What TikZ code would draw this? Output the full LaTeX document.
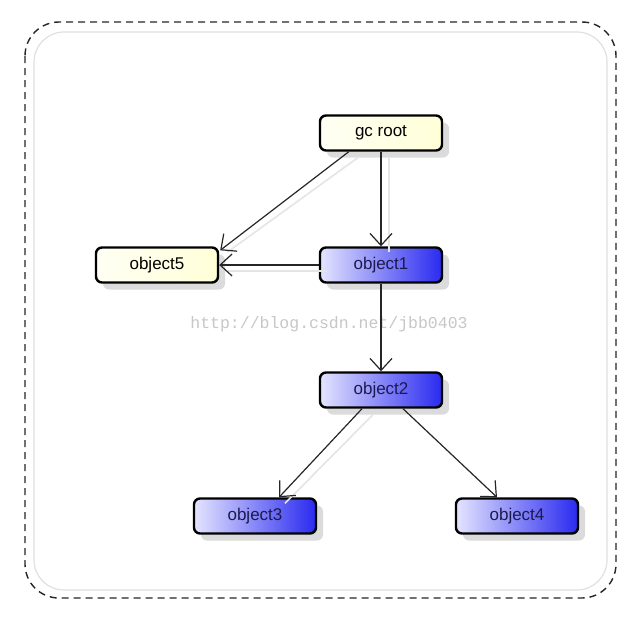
\documentclass[tikz,border=0pt]{standalone}
\usepackage{fontspec}
\setmainfont{Liberation Sans}
\newfontfamily\wmfont{Liberation Mono}
\usetikzlibrary{arrows.meta,shadows}
\definecolor{yelR}{HTML}{FFFFD8}
\definecolor{yelL}{HTML}{FFFFF4}
\definecolor{bluL}{HTML}{E4E4FF}
\definecolor{bluR}{HTML}{2A2AF0}
\definecolor{navytext}{HTML}{1A1A50}
\tikzset{
  objbox/.style={draw=black, line width=2.4pt, rounded corners=6pt,
    minimum width=122pt, minimum height=35pt, inner sep=0pt,
    font=\fontsize{17}{19}\selectfont,
    general shadow={shadow xshift=7pt, shadow yshift=-7pt, fill=black!14}},
  yelbox/.style={objbox, left color=yelL, right color=yelR, text=black},
  blubox/.style={objbox, left color=bluL, right color=bluR, text=navytext},
  edge/.style={draw=black!85, line width=1.2pt,
    -{Straight Barb[length=12pt,width=22pt,line width=1.2pt]}},
  edgeshadow/.style={draw=black!10, line width=1.6pt},
}
\begin{document}
\begin{tikzpicture}[x=1pt,y=-1pt]
\useasboundingbox (0,0) rectangle (636,626);
\fill[white] (0,0) rectangle (636,626);
% frames
\draw[black!12, line width=1.2pt, rounded corners=30pt] (34,32) rectangle (607,590);
\draw[black!85, line width=1.4pt, dash pattern=on 7pt off 5pt, rounded corners=34pt] (25,22) rectangle (616,598);
% watermark
\node[font=\wmfont\fontsize{16.5}{18}\selectfont, text=black!22] (wm) at (329,324) {http://blog.csdn.net/jbb0403};
% nodes
\node[yelbox] (gc) at (381,133) {gc root};
\node[yelbox] (o5) at (157,265) {object5};
\node[blubox] (o1) at (381,265) {object1};
\node[blubox] (o2) at (381,390) {object2};
\node[blubox] (o3) at (255,516) {object3};
\node[blubox] (o4) at (517,516) {object4};
% edge shadows
\begin{scope}[transform canvas={shift={(8pt,-6pt)}}]
\draw[edgeshadow] (gc.south west) ++(31,0) -- (o5.north east);
\draw[edgeshadow] (gc.south) -- (o1.north);
\draw[edgeshadow] (o1.west) -- (o5.east);
\draw[edgeshadow] ([xshift=-16pt]o2.south) -- ([xshift=22pt]o3.north);
\end{scope}
% edges
\draw[edge] (gc.south west) ++(30,0) -- ([xshift=1pt,yshift=-4pt]o5.north east);
\draw[edge] (gc.south) -- (o1.north);
\draw[edge] (o1.west) -- (o5.east);
\draw[edge] (o1.south) -- (o2.north);
\draw[edge] ([xshift=-19pt]o2.south) -- ([xshift=24pt]o3.north);
\draw[edge] ([xshift=22pt]o2.south) -- ([xshift=-20pt]o4.north);
\end{tikzpicture}
\end{document}
